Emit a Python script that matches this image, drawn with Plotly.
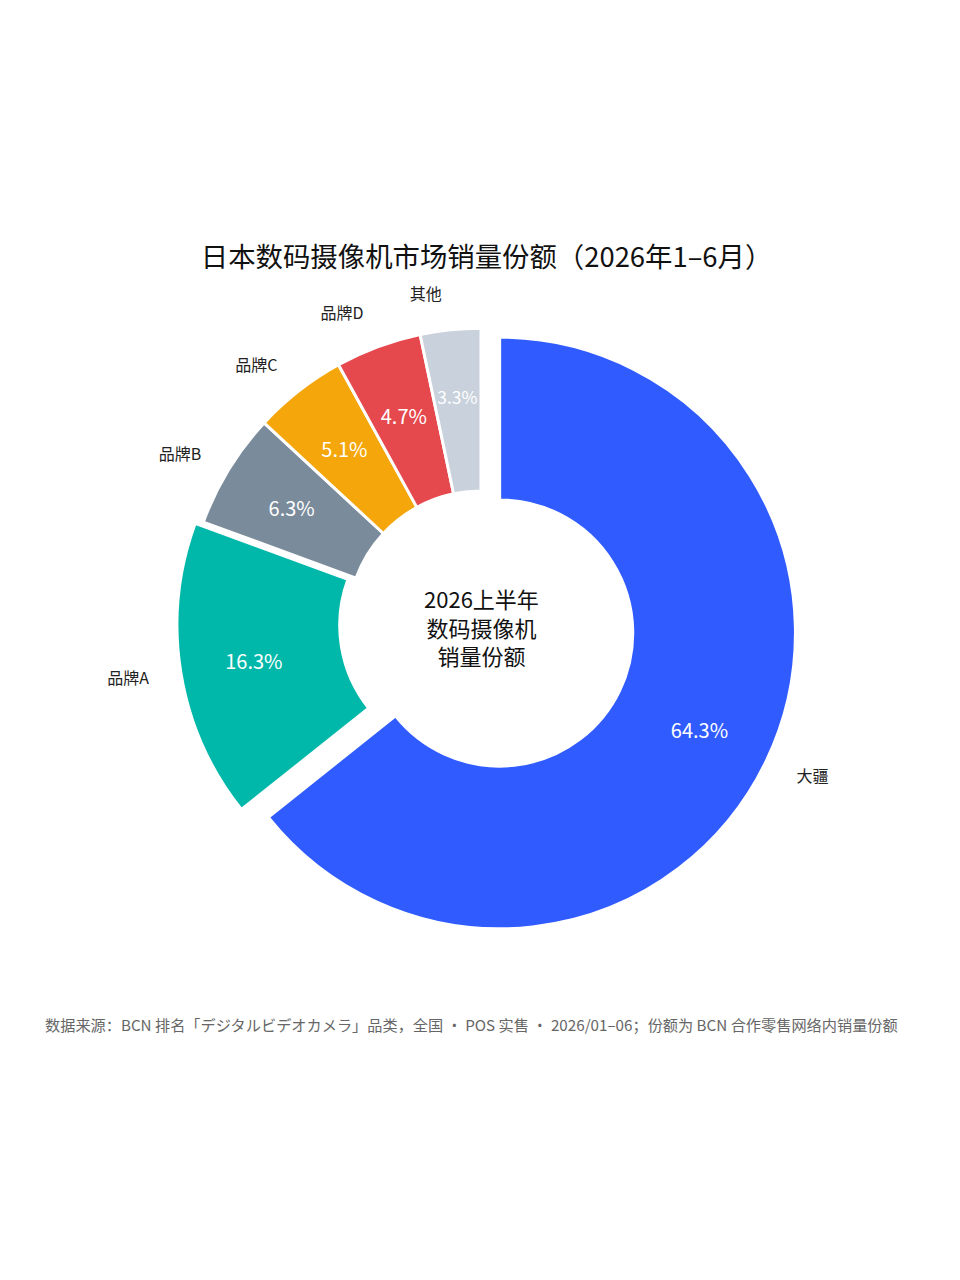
import plotly.graph_objects as go

labels = ["大疆", "品牌A", "品牌B", "品牌C", "品牌D", "其他"]
shares = [64.3, 16.3, 6.3, 5.1, 4.7, 3.3]
colors = ["#2F5BFF", "#00B8A9", "#7A8B9C", "#F5A60A", "#E5484D", "#C8D1DC"]
pulls = [0.07, 0.028, 0, 0, 0, 0]

title_text = "日本数码摄像机市场销量份额（2026年1–6月）"
center_text = "2026上半年<br>数码摄像机<br>销量份额"
source_text = ("数据来源：BCN 排名「デジタルビデオカメラ」品类，全国 · POS 实售 · "
               "2026/01–06；份额为 BCN 合作零售网络内销量份额")

FONT = "Noto Sans CJK SC, Noto Sans, sans-serif"
CLEAR = ["rgba(0,0,0,0)"] * len(labels)

PLOT_H = 700.0


def centered(px):
    """vertical domain (fraction of plot height) of a centred square of px pixels"""
    m = (PLOT_H - px) / 2 / PLOT_H
    return [m, 1 - m]


ring_dom = centered(633)      # donut itself
big_txt_dom = centered(633)   # percent text of the two large slices
small_txt_dom = centered(504.6)  # percent text of the small slices
label_dom = centered(687)     # category labels outside the ring

n = len(labels)
big = [i < 2 for i in range(n)]

common = dict(labels=labels, values=shares, sort=False, direction="clockwise",
              rotation=0, showlegend=False)

fig = go.Figure()

# coloured donut
fig.add_trace(go.Pie(
    **common, hole=0.45, pull=pulls, domain=dict(x=[0, 1], y=ring_dom),
    marker=dict(colors=colors, line=dict(color="white", width=3)),
    textinfo="none", hoverinfo="label+percent",
))

# percent text for large slices
fig.add_trace(go.Pie(
    **common, hole=0.5, pull=pulls, domain=dict(x=[0, 1], y=big_txt_dom),
    marker=dict(colors=CLEAR, line=dict(width=0)),
    texttemplate="%{value:.1f}%",
    textposition=["inside" if b else "none" for b in big],
    insidetextorientation="horizontal",
    textfont=dict(color="white", size=20, family=FONT),
    hoverinfo="skip",
))

# percent text for small slices
fig.add_trace(go.Pie(
    **common, hole=0.76, domain=dict(x=[0, 1], y=small_txt_dom),
    marker=dict(colors=CLEAR, line=dict(width=0)),
    texttemplate="%{value:.1f}%",
    textposition=["none" if b else "inside" for b in big],
    insidetextorientation="horizontal",
    textfont=dict(color="white", size=20, family=FONT),
    hoverinfo="skip",
))

# outside category labels (last one in its own trace so it is not shifted)
fig.add_trace(go.Pie(
    **common, hole=0.45, pull=pulls, domain=dict(x=[0, 1], y=label_dom),
    marker=dict(colors=CLEAR, line=dict(width=0)),
    texttemplate="%{label}",
    textposition=["outside"] * (n - 1) + ["none"],
    outsidetextfont=dict(color="#222222", size=16, family=FONT),
    hoverinfo="skip",
))
fig.add_trace(go.Pie(
    **common, hole=0.45, pull=pulls, domain=dict(x=[0, 1], y=label_dom),
    marker=dict(colors=CLEAR, line=dict(width=0)),
    texttemplate="%{label}",
    textposition=["none"] * (n - 1) + ["outside"],
    outsidetextfont=dict(color="#222222", size=16, family=FONT),
    hoverinfo="skip",
))

annotations = [
    dict(text=center_text, x=0.5, y=0.5, xref="paper", yref="paper",
         xanchor="center", yanchor="middle", yshift=-2, showarrow=False,
         font=dict(size=22, color="#111111", family=FONT)),
    dict(text=source_text, x=0.49, y=-50 / PLOT_H, xref="paper", yref="paper",
         xanchor="center", yanchor="middle", showarrow=False,
         font=dict(size=15.2, color="#666666", family=FONT)),
]

fig.update_layout(
    width=960, height=1280,
    margin=dict(l=12, r=26, t=266, b=314, autoexpand=False),
    paper_bgcolor="white", plot_bgcolor="white",
    title=dict(text=title_text, x=0.4985, xanchor="center", y=1 - 249 / 1280,
               yanchor="middle", yref="container",
               font=dict(size=27.4, color="#111111", family=FONT)),
    annotations=annotations,
    font=dict(family=FONT),
)

fig.write_html("out.html")
